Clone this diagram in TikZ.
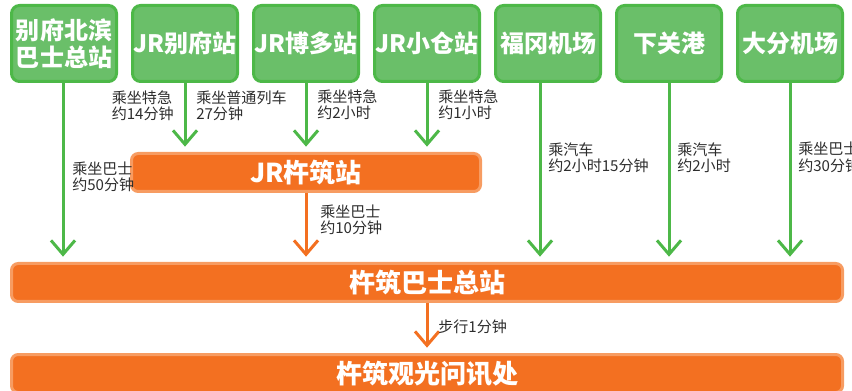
\documentclass[tikz,border=0pt]{standalone}
\usepackage{fontspec}
\setmainfont{Noto Sans CJK SC}
\usetikzlibrary{arrows.meta}
\definecolor{gfill}{RGB}{106,191,105}
\definecolor{gborder}{RGB}{77,184,72}
\definecolor{ofill}{RGB}{243,112,33}
\definecolor{oborder}{RGB}{247,156,98}
\definecolor{txt}{RGB}{45,45,45}
\begin{document}
\begin{tikzpicture}[x=0.75pt,y=-0.75pt,
  gbox/.style={draw=gborder, fill=gfill, line width=2.25pt, rounded corners=6pt,
    minimum width=78.75pt, minimum height=57pt, inner sep=0pt, text=white,
    font=\fontsize{18}{20.25}\selectfont\bfseries, align=center},
  obox/.style={draw=oborder, fill=ofill, line width=2.25pt, rounded corners=5pt,
    minimum height=28.5pt, inner sep=0pt, text=white,
    font=\fontsize{19.5}{21}\selectfont\bfseries},
  lbl/.style={text=txt, font=\fontsize{11.3}{12.3}\selectfont, align=left, inner sep=0pt},
  garr/.style={draw=gborder, line width=2.25pt, shorten >=4pt,
    -{Straight Barb[length=10.5pt,width=18pt]}},
  oarr/.style={draw=ofill, line width=2.25pt, shorten >=4pt,
    -{Straight Barb[length=10.5pt,width=18pt]}}
]
\useasboundingbox (0,0) rectangle (852,391);
% top boxes
\node[gbox] (b1) at (64,43.5) {别府北滨\\巴士总站};
\node[gbox] (b2) at (185,43.5) {JR别府站};
\node[gbox] (b3) at (306,43.5) {JR博多站};
\node[gbox] (b4) at (427,43.5) {JR小仓站};
\node[gbox] (b5) at (548,43.5) {福冈机场};
\node[gbox] (b6) at (669,43.5) {下关港};
\node[gbox] (b7) at (790,43.5) {大分机场};
% orange boxes
\node[obox, minimum width=261.75pt] (jr) at (306,172.5) {JR杵筑站};
\node[obox, minimum width=623.25pt] (bus) at (427,282.5) {杵筑巴士总站};
\node[obox, minimum width=623.25pt] (info) at (427,373.5) {杵筑观光问讯处};
% connector start points
\coordinate (s1) at (63,82);
\coordinate (s5) at (540,82);
% arrows
\draw[garr] (s1) -- (s1 |- bus.north);
\draw[garr] (b2.south) -- (b2.south |- jr.north);
\draw[garr] (b3.south) -- (b3.south |- jr.north);
\draw[garr] (b4.south) -- (b4.south |- jr.north);
\draw[garr] (s5) -- (s5 |- bus.north);
\draw[garr] (b6.south) -- (b6.south |- bus.north);
\draw[garr] (b7.south) -- (b7.south |- bus.north);
\draw[oarr] (jr.south) -- (jr.south |- bus.north);
\draw[oarr] (bus.south) -- (bus.south |- info.north);
% labels
\node[lbl, anchor=east] (l2) at (174,105.5) {乘坐特急\\约14分钟};
\node[lbl, anchor=west] (l3) at (196,105.5) {乘坐普通列车\\27分钟};
\node[lbl, anchor=west] (l4) at (317,104.5) {乘坐特急\\约2小时};
\node[lbl, anchor=west] (l5) at (438,104.5) {乘坐特急\\约1小时};
\node[lbl, anchor=west] (l1) at (72,177) {乘坐巴士\\约50分钟};
\node[lbl, anchor=west] (l6) at (320,220) {乘坐巴士\\约10分钟};
\node[lbl, anchor=west] (l7) at (548,157.5) {乘汽车\\约2小时15分钟};
\node[lbl, anchor=west] (l8) at (677,157.5) {乘汽车\\约2小时};
\node[lbl, anchor=west] (l9) at (798,157.5) {乘坐巴士\\约30分钟};
\node[lbl, anchor=west] (l10) at (438,327) {步行1分钟};
\end{tikzpicture}
\end{document}
